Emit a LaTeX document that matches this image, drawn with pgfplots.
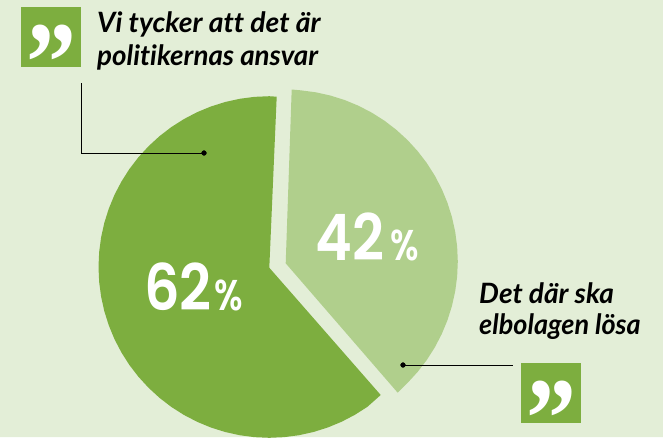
\documentclass[border=0pt]{standalone}
\usepackage{fontspec}
\usepackage{graphicx}
\usepackage{pgfplots}
\pgfplotsset{compat=1.18}
\setmainfont{Lato}[Ligatures=NoCommon]
\newfontfamily\pop{Poppins SemiBold}
\newfontfamily\qu{Liberation Serif}
\definecolor{bg}{HTML}{E3EED7}
\definecolor{dk}{HTML}{7DAE3F}
\definecolor{lt}{HTML}{B0CF8C}
\begin{document}
\begin{tikzpicture}
\begin{axis}[scale only axis,width=663pt,height=437pt,xmin=0,xmax=663,ymin=0,ymax=437,y dir=reverse,hide axis,clip=true]
\addplot[fill=bg,draw=none] coordinates {(0,0)(663,0)(663,437)(0,437)} \closedcycle;
% dark slice, 62 %
\addplot[fill=dk,draw=none] coordinates {(276.7,96.7)(269.3,96.2)(254.41,96.85)(239.65,98.8)(225.1,102.02)(210.89,106.5)(197.12,112.17)(183.9,119.08)(171.33,127.08)(159.51,136.17)(148.53,146.23)(138.47,157.2)(129.38,169.03)(121.39,181.6)(114.5,194.8)(108.8,208.61)(104.32,222.8)(101.1,237.35)(99.15,252.11)(98.5,267)(99.15,281.89)(101.1,296.65)(104.32,311.2)(108.8,325.39)(114.5,339.2)(121.39,352.4)(129.38,364.97)(138.47,376.8)(148.53,387.77)(159.51,397.83)(171.33,406.92)(183.9,414.91)(197.12,421.8)(210.89,427.5)(225.1,431.98)(239.65,435.2)(254.41,437.15)(269.3,437.8)(284.19,437.15)(298.95,435.2)(313.5,431.98)(327.71,427.5)(341.48,421.8)(354.7,414.91)(367.27,406.92)(380.7,395)(269.3,267.7)} -- cycle;
% light slice, 42 %
\addplot[fill=lt,draw=none] coordinates {(291.7,89.5)(300.98,90.35)(315.83,92.31)(330.46,95.56)(344.76,100.06)(358.6,105.8)(371.9,112.72)(384.54,120.76)(396.43,129.9)(407.48,140.02)(417.6,151.07)(426.74,162.96)(434.78,175.6)(441.7,188.9)(447.44,202.74)(451.94,217.04)(455.19,231.67)(457.15,246.52)(457.8,261.5)(457.15,276.48)(455.19,291.33)(451.94,305.96)(447.44,320.26)(441.7,334.1)(434.78,347.4)(426.74,360.04)(417.6,371.93)(407.48,382.98)(397.7,392.7)(285.7,263.3)} -- cycle;
% quote boxes
\addplot[fill=dk,draw=none] coordinates {(21,7)(81,7)(81,67)(21,67)} -- cycle;
\addplot[fill=dk,draw=none] coordinates {(521,363)(581,363)(581,423)(521,423)} -- cycle;
% leaders
\addplot[black,line width=0.9pt] coordinates {(81,83)(81,153)(204,153)};
\addplot[black,line width=0.9pt] coordinates {(403,365)(513,365)};
\addplot[only marks,mark=*,mark size=2.4pt,black] coordinates {(204,153)(403,365)};
% text
\node[anchor=base west,inner sep=0pt,font=\fontsize{28}{28}\selectfont\bfseries\itshape] at (axis cs:97,32) {\scalebox{1.01}[1]{Vi tycker att det är}};
\node[anchor=base west,inner sep=0pt,font=\fontsize{28}{28}\selectfont\bfseries\itshape] at (axis cs:97,65) {\scalebox{0.99}[1]{politikernas ansvar}};
\node[anchor=base west,inner sep=0pt,font=\fontsize{28}{28}\selectfont\bfseries\itshape] at (axis cs:479,303) {Det där ska};
\node[anchor=base west,inner sep=0pt,font=\fontsize{28}{28}\selectfont\bfseries\itshape] at (axis cs:479,334) {\scalebox{0.965}[1]{elbolagen lösa}};
\node[anchor=base west,inner sep=0pt,text=white,font=\pop\fontsize{64}{64}\selectfont] at (axis cs:144,310) {\scalebox{0.87}[1]{62}};
\node[anchor=base west,inner sep=0pt,text=white,font=\pop\fontsize{64}{64}\selectfont] at (axis cs:315,260) {\scalebox{0.87}[1]{42}};
\node[anchor=base west,inner sep=0pt,text=white,font=\pop\fontsize{43}{43}\selectfont] at (axis cs:214,310) {\scalebox{0.8}[1]{\%}};
\node[anchor=base west,inner sep=0pt,text=white,font=\pop\fontsize{43}{43}\selectfont] at (axis cs:390,260) {\scalebox{0.8}[1]{\%}};
\node[anchor=base,inner sep=0pt,text=white,font=\qu\fontsize{100}{100}\selectfont\bfseries] at (axis cs:51,30) {\smash{\raisebox{-71pt}{\scalebox{1}[1.15]{”}}}};
\node[anchor=base,inner sep=0pt,text=white,font=\qu\fontsize{100}{100}\selectfont\bfseries] at (axis cs:551,386) {\smash{\raisebox{-71pt}{\scalebox{1}[1.15]{”}}}};
\end{axis}
\end{tikzpicture}
\end{document}
